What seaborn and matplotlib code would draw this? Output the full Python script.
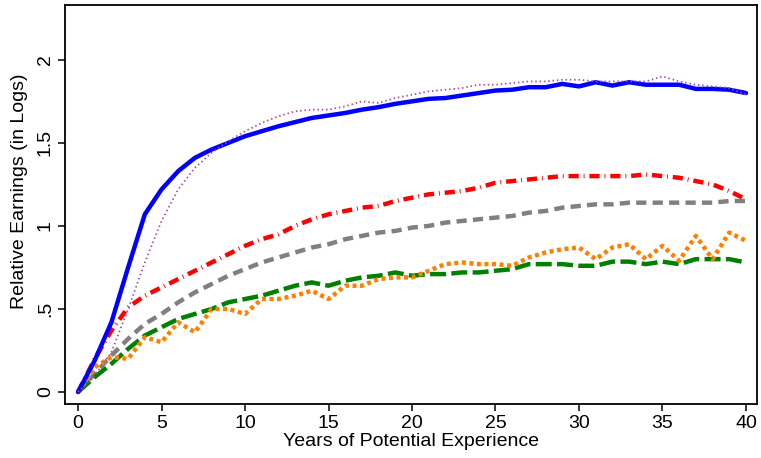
import numpy as np
import pandas as pd
import matplotlib
matplotlib.use("Agg")
import matplotlib.pyplot as plt
import seaborn as sns
from matplotlib import font_manager

years = list(range(41))

blue = [0, 0.19, 0.42, 0.75, 1.07, 1.22, 1.33, 1.41, 1.46, 1.50, 1.54, 1.57, 1.60, 1.625, 1.65,
        1.665, 1.68, 1.70, 1.715, 1.735, 1.75, 1.765, 1.77, 1.785, 1.80, 1.815, 1.82, 1.835, 1.835,
        1.855, 1.84, 1.865, 1.845, 1.865, 1.85, 1.85, 1.85, 1.825, 1.825, 1.82, 1.80]
purple = [0, 0.10, 0.24, 0.50, 0.78, 1.03, 1.22, 1.35, 1.44, 1.51, 1.57, 1.62, 1.66, 1.69, 1.70,
          1.70, 1.72, 1.75, 1.74, 1.77, 1.79, 1.81, 1.82, 1.83, 1.85, 1.85, 1.86, 1.87, 1.87,
          1.88, 1.88, 1.87, 1.87, 1.87, 1.87, 1.90, 1.87, 1.85, 1.84, 1.83, 1.79]
red = [0, 0.20, 0.37, 0.51, 0.58, 0.63, 0.68, 0.73, 0.78, 0.83, 0.88, 0.92, 0.95, 1.00, 1.04,
       1.07, 1.09, 1.11, 1.12, 1.15, 1.17, 1.19, 1.20, 1.21, 1.23, 1.26, 1.27, 1.28, 1.29,
       1.30, 1.30, 1.30, 1.30, 1.30, 1.31, 1.30, 1.29, 1.27, 1.25, 1.21, 1.16]
gray = [0, 0.11, 0.22, 0.32, 0.41, 0.47, 0.54, 0.60, 0.65, 0.70, 0.74, 0.78, 0.81, 0.84, 0.87,
        0.89, 0.92, 0.94, 0.96, 0.97, 0.99, 1.00, 1.02, 1.03, 1.04, 1.05, 1.06, 1.08, 1.09,
        1.11, 1.12, 1.13, 1.13, 1.14, 1.14, 1.14, 1.14, 1.14, 1.14, 1.15, 1.15]
orange = [0, 0.15, 0.21, 0.20, 0.33, 0.30, 0.42, 0.36, 0.50, 0.50, 0.47, 0.56, 0.56, 0.58, 0.61,
          0.56, 0.64, 0.64, 0.68, 0.69, 0.69, 0.73, 0.77, 0.78, 0.77, 0.77, 0.76, 0.81, 0.84,
          0.86, 0.87, 0.80, 0.87, 0.89, 0.80, 0.88, 0.79, 0.94, 0.80, 0.96, 0.91]
green = [0, 0.09, 0.17, 0.26, 0.34, 0.39, 0.44, 0.47, 0.50, 0.54, 0.56, 0.58, 0.61, 0.64, 0.66,
         0.64, 0.67, 0.69, 0.70, 0.72, 0.70, 0.71, 0.71, 0.72, 0.72, 0.73, 0.74, 0.77, 0.77,
         0.77, 0.76, 0.76, 0.785, 0.785, 0.77, 0.785, 0.77, 0.80, 0.80, 0.80, 0.78]

x_ticks = [0, 5, 10, 15, 20, 25, 30, 35, 40]
y_ticks = [0, 0.5, 1, 1.5, 2]
y_tick_labels = ["0", ".5", "1", "1.5", "2"]

sns.set_theme(style="white")
names = {f.name for f in font_manager.fontManager.ttflist}
fam = "Liberation Sans Narrow" if "Liberation Sans Narrow" in names else "Liberation Sans"
plt.rcParams['font.family'] = [fam, 'DejaVu Sans']

fig = plt.figure(figsize=(7.61, 4.58), dpi=100)
ax = fig.add_axes([65/761, 1-404/458, (757-65)/761, (404-5)/458])

series = [
    ("red", red, "#ff0000", (0, (2.3, 1.1, 0.2, 1.1)), 3.2),
    ("gray", gray, "#808080", (0, (2.3, 1.4)), 3.2),
    ("green", green, "#008000", (0, (3.6, 1.2)), 3.2),
    ("orange", orange, "#ff8000", (0, (0.9, 0.8)), 3.2),
    ("blue", blue, "#0000ff", "-", 3.2),
    ("purple", purple, "#a64ca6", (0, (0.8, 1.6)), 1.3),
]
for name, vals, col, ls, lw in series:
    df = pd.DataFrame({"x": years, "y": vals})
    sns.lineplot(data=df, x="x", y="y", ax=ax, color=col, linewidth=lw, errorbar=None)
    line = ax.lines[-1]
    if ls != "-":
        line.set_linestyle(ls)
    line.set_solid_capstyle("round")

ax.set_xlim(-0.78, 40.66)
ax.set_ylim(-0.072, 2.33)
ax.set_xticks(x_ticks)
ax.set_xticklabels([str(t) for t in x_ticks])
ax.set_yticks(y_ticks)
ax.set_yticklabels(y_tick_labels, rotation=90, va="center")
ax.tick_params(axis="both", which="both", direction="out", length=5, width=1.1,
               color="black", labelsize=14, labelcolor="black", pad=3)
ax.tick_params(left=True, bottom=True)
for s in ax.spines.values():
    s.set_visible(True)
    s.set_color("black")
    s.set_linewidth(1.3)
ax.set_xlabel("Years of Potential Experience", fontsize=14, color="black", labelpad=1)
ax.set_ylabel("Relative Earnings (in Logs)", fontsize=14, color="black")
ax.yaxis.set_label_coords(-0.053, 0.534)
ax.grid(False)

fig.savefig("out.png", dpi=100)
